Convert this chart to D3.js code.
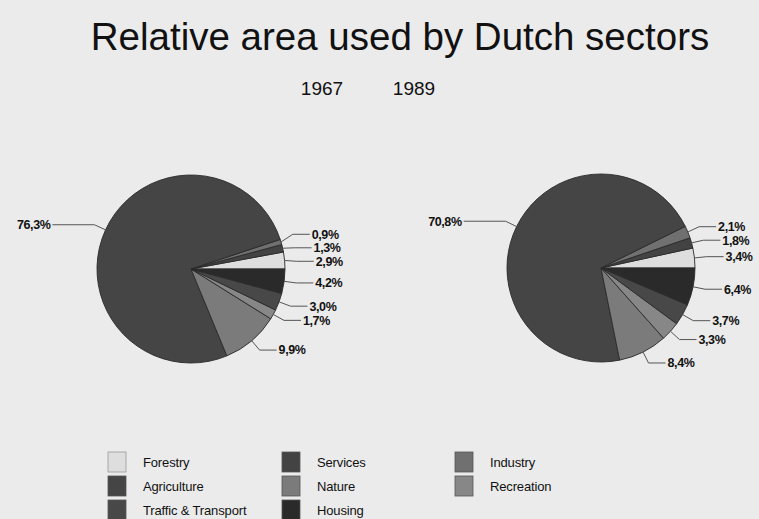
<!DOCTYPE html>
<html>
<head>
<meta charset="utf-8">
<script src="https://cdn.jsdelivr.net/npm/d3@7"></script>
<style>
  html, body { margin: 0; padding: 0; background: #ebebeb; }
  svg { display: block; font-family: 'Liberation Sans', Arial, sans-serif; }
</style>
</head>
<body>
<div id="wrapper"></div>
<script>
// slice order: counterclockwise from 3 o'clock (also the legend, row by row)
const categories = ['Forestry', 'Services', 'Industry', 'Agriculture', 'Nature', 'Recreation', 'Traffic & Transport', 'Housing']
const values1967 = [2.9, 1.3, 0.9, 76.3, 9.9, 1.7, 3.0, 4.2]
const values1989 = [3.4, 1.8, 2.1, 70.8, 8.4, 3.3, 3.7, 6.4]
const years = ['1967', '1989']
const sliceColors = ['#dedede', '#434343', '#707070', '#454545', '#7b7b7b', '#878787', '#484848', '#2a2a2a']

function drawChart() {
  const dimensions = {
    width: 759,
    height: 519,
    radius: 94,
    pieCenters: [[191, 269], [601, 268]],
    labelGap: 13.5,
  }

  const svg = d3
    .select('#wrapper')
    .append('svg')
    .attr('width', dimensions.width)
    .attr('height', dimensions.height)

  // title + year headings
  svg
    .append('text')
    .attr('x', 400)
    .attr('y', 50)
    .attr('text-anchor', 'middle')
    .attr('font-size', 38.5)
    .attr('fill', '#111')
    .text('Relative area used by Dutch sectors')

  const yearX = [322, 414]
  years.forEach((y, i) => {
    svg
      .append('text')
      .attr('x', yearX[i])
      .attr('y', 95)
      .attr('text-anchor', 'middle')
      .attr('font-size', 19)
      .attr('fill', '#111')
      .text(y)
  })

  const color = d3.scaleOrdinal().domain(categories).range(sliceColors)

  const pie = d3
    .pie()
    .sort(null)
    .startAngle(Math.PI / 2)
    .endAngle(Math.PI / 2 - 2 * Math.PI)
    .value((d) => d.value)

  const arc = d3.arc().innerRadius(0).outerRadius(dimensions.radius)
  const fmt = (v) => d3.format('.1f')(v).replace('.', ',') + '%'

  ;[values1967, values1989].forEach((values, i) => {
    const data = categories.map((c, j) => ({ cat: c, value: values[j] }))
    const [cx, cy] = dimensions.pieCenters[i]
    const g = svg.append('g').attr('transform', `translate(${cx},${cy})`)

    const arcs = pie(data)

    g.selectAll('path')
      .data(arcs)
      .enter()
      .append('path')
      .attr('d', arc)
      .attr('fill', (d) => color(d.data.cat))
      .attr('stroke', '#2a2a2a')
      .attr('stroke-width', 0.9)

    // label anchor points
    const r = dimensions.radius
    const labels = arcs.map((d) => {
      const mid = (d.startAngle + d.endAngle) / 2
      const sx = Math.sin(mid)
      const sy = -Math.cos(mid)
      const right = sx >= 0
      const p0 = [r * sx, r * sy]
      const p1 = [r * 1.13 * sx, r * 1.13 * sy]
      return { d, right, p0, p1, y: p1[1] }
    })

    // relax crowded right-side labels so they don't sit on top of each other
    const rightSide = labels.filter((l) => l.right).sort((a, b) => a.y - b.y)
    for (let iter = 0; iter < 30; iter++) {
      for (let k = 1; k < rightSide.length; k++) {
        const gap = rightSide[k].y - rightSide[k - 1].y
        if (gap < dimensions.labelGap) {
          const shift = (dimensions.labelGap - gap) / 2
          rightSide[k - 1].y -= shift
          rightSide[k].y += shift
        }
      }
    }

    labels.forEach((l) => {
      const p2 = [l.p1[0] + (l.right ? 17 : -42), l.y]

      g.append('polyline')
        .attr('points', [l.p0, [l.p1[0], l.y], p2].map((p) => p.join(',')).join(' '))
        .attr('fill', 'none')
        .attr('stroke', '#555')
        .attr('stroke-width', 1)

      g.append('text')
        .attr('x', p2[0] + (l.right ? 2 : -2))
        .attr('y', p2[1])
        .attr('dy', '0.35em')
        .attr('text-anchor', l.right ? 'start' : 'end')
        .attr('font-size', 12.5)
        .attr('font-weight', 'bold')
        .attr('letter-spacing', -0.4)
        .attr('fill', '#111')
        .text(fmt(l.d.data.value))
    })
  })

  // legend: 3 columns, filled row by row
  const colX = [108, 282, 455]
  const rowY = [452, 476, 500]
  const legend = svg.append('g').attr('class', 'legend')
  categories.forEach((c, i) => {
    const x = colX[i % 3]
    const y = rowY[Math.floor(i / 3)]
    legend
      .append('rect')
      .attr('x', x)
      .attr('y', y)
      .attr('width', 18)
      .attr('height', 20)
      .attr('fill', color(c))
      .attr('stroke', c === 'Forestry' ? '#9a9a9a' : '#555')
      .attr('stroke-width', 0.8)
    legend
      .append('text')
      .attr('x', x + 35)
      .attr('y', y + 10)
      .attr('dy', '0.35em')
      .attr('font-size', 13)
      .attr('letter-spacing', -0.15)
      .attr('fill', '#111')
      .text(c)
  })
}

drawChart()
</script>
</body>
</html>
